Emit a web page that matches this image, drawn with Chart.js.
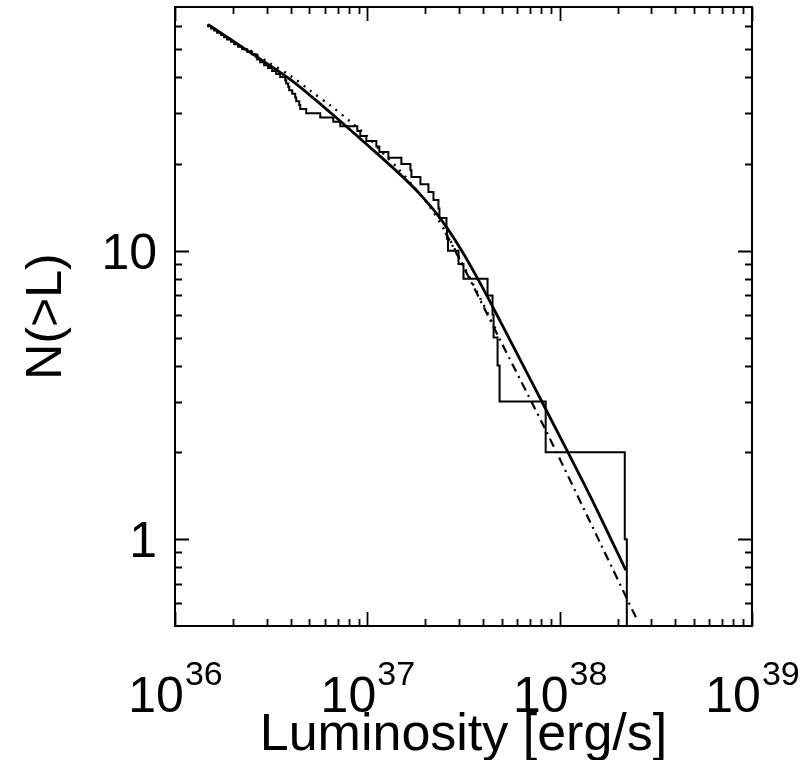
<!DOCTYPE html>
<html>
<head>
<meta charset="utf-8">
<script src="https://cdn.jsdelivr.net/npm/chart.js@4/dist/chart.umd.min.js"></script>
<style>
  html, body { margin: 0; padding: 0; background: #fff; }
  canvas { display: block; }
</style>
</head>
<body>
<canvas id="xlf" width="806" height="760"></canvas>
<script>
// cumulative counts N(>L), luminosities in erg/s (faintest source first)
const stepL = [1.485e36, 1.540e36, 1.597e36, 1.655e36, 1.736e36, 1.800e36, 1.866e36, 1.957e36, 2.029e36, 2.129e36,
  2.234e36, 2.371e36, 2.518e36, 2.642e36, 2.674e36, 2.771e36, 2.907e36, 3.050e36, 3.200e36, 3.357e36,
  3.523e36, 3.741e36, 3.786e36, 3.878e36, 3.925e36, 4.068e36, 4.217e36, 4.268e36, 4.424e36, 4.477e36,
  4.812e36, 5.690e36, 6.651e36, 7.234e36, 8.870e36, 9.194e36, 9.881e36, 1.114e37, 1.155e37, 1.287e37,
  1.503e37, 1.675e37, 1.695e37, 1.888e37, 2.078e37, 2.207e37, 2.343e37, 2.371e37, 2.579e37, 2.595e37,
  2.626e37, 2.978e37, 3.162e37, 4.217e37, 4.477e37, 4.533e37, 4.755e37, 4.870e37, 8.457e37, 2.180e38,
  2.234e38, 2.234e38]
// last entry is the drop to zero, below the axis
const stepN = [61, 60, 59, 58, 57, 56, 55, 54, 53, 52,
  51, 50, 49, 48, 47, 46, 45, 44, 43, 42,
  41, 40, 39, 38, 37, 36, 35, 34, 33, 32,
  31, 30, 29, 28, 27, 26, 25, 24, 23, 22,
  21, 20, 19, 18, 17, 16, 15, 14, 13, 12,
  11, 10, 9, 8, 7, 6, 5, 4, 3, 2,
  1, 0.1]

// solid model curve
const fitL = [1.485e36, 2.458e36, 3.972e36, 6.418e36, 1.036e37, 1.485e37, 1.888e37, 2.400e37, 3.051e37, 3.878e37,
  4.928e37, 7.063e37, 1.012e38, 1.450e38, 2.207e38]
const fitN = [60.9, 48.7, 39.25, 30.15, 22.79, 18.36, 15.65, 12.92, 10.16, 7.68,
  5.67, 3.565, 2.242, 1.399, 0.781]

// dotted model
const dotL = [2.458e36, 3.124e36, 3.972e36, 5.048e36, 6.418e36, 8.154e36, 1.000e37, 1.212e37, 1.433e37, 1.736e37,
  2.129e37, 2.548e37, 3.124e37, 3.878e37, 4.642e37]
const dotN = [49.5, 44.6, 40.5, 35.9, 31.9, 28.05, 24.9, 21.7, 19.4, 16.7,
  14.1, 11.64, 9.01, 6.81, 5.36]

// dash-dot model
const dashL = [2.548e37, 3.162e37, 4.928e37, 8.457e37, 1.636e38, 2.548e38]
const dashN = [11.55, 8.80, 4.87, 2.39, 0.961, 0.519]

const xExponents = [36, 37, 38, 39]
const xMinor = [2, 3, 4, 5, 6, 7, 8, 9]
const yMajor = [1, 10]
const yMajorLabels = ['1', '10']
const yMinor = [0.6, 0.7, 0.8, 0.9, 2, 3, 4, 5, 6, 7, 8, 9, 20, 30, 40, 50, 60]
const xTitle = 'Luminosity [erg/s]'
const yTitle = 'N(>L)'

const FONT = "'Liberation Sans', Arial, Helvetica, sans-serif"

const pts = (xs, ys) => xs.map((x, i) => ({ x: x, y: ys[i] }))

// box, inward ticks and labels in the old IDL style
const frame = {
  id: 'frame',
  afterDraw(chart) {
    const ctx = chart.ctx
    const { left, right, top, bottom } = chart.chartArea
    const xs = chart.scales.x
    const ys = chart.scales.y
    ctx.save()
    ctx.strokeStyle = '#000'
    ctx.fillStyle = '#000'
    ctx.lineWidth = 2
    ctx.strokeRect(left, top, right - left, bottom - top)

    ctx.lineWidth = 1.8
    ctx.beginPath()
    const xTick = (v, len) => {
      const p = Math.round(xs.getPixelForValue(v)) + 0.5
      ctx.moveTo(p, bottom); ctx.lineTo(p, bottom - len)
      ctx.moveTo(p, top); ctx.lineTo(p, top + len)
    }
    const yTick = (v, len) => {
      const p = Math.round(ys.getPixelForValue(v)) + 0.5
      ctx.moveTo(left, p); ctx.lineTo(left + len, p)
      ctx.moveTo(right, p); ctx.lineTo(right - len, p)
    }
    xExponents.forEach((e, i) => {
      xTick(Math.pow(10, e), 14)
      if (i < xExponents.length - 1) xMinor.forEach(m => xTick(m * Math.pow(10, e), 7))
    })
    yMajor.forEach(v => yTick(v, 14))
    yMinor.forEach(v => yTick(v, 7))
    ctx.stroke()

    // x tick labels 10^e
    ctx.textBaseline = 'alphabetic'
    ctx.textAlign = 'left'
    xExponents.forEach(e => {
      const p = xs.getPixelForValue(Math.pow(10, e))
      ctx.font = '50px ' + FONT
      const wb = ctx.measureText('10').width
      ctx.font = '34px ' + FONT
      const we = ctx.measureText(String(e)).width
      const x0 = p - (wb + we) / 2
      ctx.font = '50px ' + FONT
      ctx.fillText('10', x0, 712)
      ctx.font = '34px ' + FONT
      ctx.fillText(String(e), x0 + wb + 1, 685)
    })

    // y tick labels
    ctx.font = '50px ' + FONT
    ctx.textAlign = 'right'
    yMajor.forEach((v, i) => {
      ctx.fillText(yMajorLabels[i], 157, ys.getPixelForValue(v) + 18)
    })

    // axis titles
    ctx.font = '52px ' + FONT
    ctx.textAlign = 'center'
    ctx.fillText(xTitle, (left + right) / 2, 750)
    ctx.save()
    ctx.translate(61, (top + bottom) / 2)
    ctx.rotate(-Math.PI / 2)
    ctx.font = '50px ' + FONT
    ctx.fillText(yTitle, 0, 0)
    ctx.restore()
    ctx.restore()
  }
}

new Chart(document.getElementById('xlf').getContext('2d'), {
  type: 'scatter',
  data: {
    datasets: [
      { label: 'sources', data: pts(stepL, stepN), showLine: true, stepped: 'after',
        borderColor: '#000', borderWidth: 2, pointRadius: 0 },
      { label: 'model', data: pts(fitL, fitN), showLine: true, tension: 0.3,
        borderColor: '#000', borderWidth: 2.8, pointRadius: 0 },
      { label: 'dotted', data: pts(dotL, dotN), showLine: true, tension: 0.3,
        borderColor: '#000', borderWidth: 2.4, borderDash: [2, 6], pointRadius: 0 },
      { label: 'dash-dot', data: pts(dashL, dashN), showLine: true, tension: 0.3,
        borderColor: '#000', borderWidth: 2.2, borderDash: [9, 5, 2, 5], pointRadius: 0 }
    ]
  },
  options: {
    responsive: false,
    animation: false,
    devicePixelRatio: 1,
    layout: { padding: { left: 175, top: 7, right: 54, bottom: 134 } },
    plugins: { legend: { display: false }, tooltip: { enabled: false } },
    scales: {
      x: { type: 'logarithmic', min: 1e36, max: 1e39,
        ticks: { display: false }, grid: { display: false, drawTicks: false }, border: { display: false } },
      y: { type: 'logarithmic', min: 0.5, max: 70,
        ticks: { display: false }, grid: { display: false, drawTicks: false }, border: { display: false } }
    }
  },
  plugins: [frame]
})
</script>
</body>
</html>
